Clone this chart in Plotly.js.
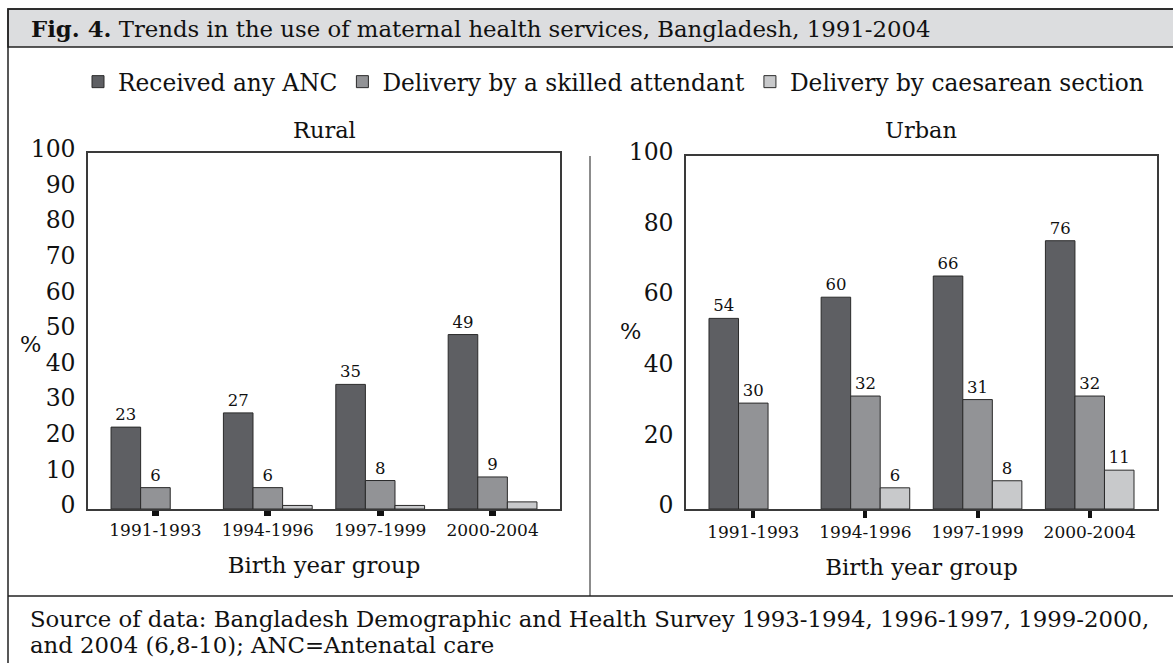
<!DOCTYPE html>
<html>
<head>
<meta charset="utf-8">
<script src="https://cdn.plot.ly/plotly-3.0.1.min.js"></script>
<style>html,body{margin:0;padding:0;background:#fff;}#chart{width:1173px;height:663px;}</style>
</head>
<body>
<div id="chart"></div>
<script>
// ---- data ----
const categories = ['1991-1993', '1994-1996', '1997-1999', '2000-2004'];
const seriesNames = ['Received any ANC', 'Delivery by a skilled attendant', 'Delivery by caesarean section'];
const ruralANC = [23, 27, 35, 49];
const ruralSkilled = [6, 6, 8, 9];
const ruralCaesarean = [null, 1, 1, 2];
const urbanANC = [54, 60, 66, 76];
const urbanSkilled = [30, 32, 31, 32];
const urbanCaesarean = [null, 6, 8, 11];
const panelTitles = ['Rural', 'Urban'];
const headerBold = 'Fig. 4.';
const headerText = 'Trends in the use of maternal health services, Bangladesh, 1991-2004';
const xTitle = 'Birth year group';
const yTitle = '%';
const sourceLine1 = 'Source of data: Bangladesh Demographic and Health Survey 1993-1994, 1996-1997, 1999-2000,';
const sourceLine2 = 'and 2004 (6,8-10); ANC=Antenatal care';

// ---- styling ----
const W = 1173, H = 663;
const FONT = 'DejaVu Serif, serif';
const colors = ['#5e5f63', '#929396', '#c8c9cb'];
const px = v => v / W;
const py = v => 1 - v / H;

function barTrace(name, values, idx, xa, ya, showLeg, showText) {
  return {
    type: 'bar', name: name, x: categories, y: values,
    xaxis: xa, yaxis: ya, legendgroup: name, showlegend: showLeg,
    marker: {color: colors[idx], line: {color: '#2a2a2a', width: 1}},
    text: values.map(v => (v === null ? '' : String(v))),
    textposition: showText ? 'outside' : 'none',
    textfont: {family: FONT, size: 16.5, color: '#111'},
    cliponaxis: false, hoverinfo: 'x+y+name'
  };
}

const traces = [
  barTrace(seriesNames[0], ruralANC, 0, 'x', 'y', true, true),
  barTrace(seriesNames[1], ruralSkilled, 1, 'x', 'y', true, true),
  barTrace(seriesNames[2], ruralCaesarean, 2, 'x', 'y', true, false),
  barTrace(seriesNames[0], urbanANC, 0, 'x2', 'y2', false, true),
  barTrace(seriesNames[1], urbanSkilled, 1, 'x2', 'y2', false, true),
  barTrace(seriesNames[2], urbanCaesarean, 2, 'x2', 'y2', false, true)
];

function xAxis(domain, anchor, tlen, twid) {
  return {
    domain: domain, anchor: anchor, type: 'category', range: [-0.6, 3.6],
    showline: true, mirror: true, linecolor: '#3a3a3a', linewidth: 1.5,
    ticks: 'outside', ticklen: tlen, tickwidth: twid, tickcolor: '#111',
    tickfont: {family: FONT, size: 17, color: '#111'},
    showgrid: false, zeroline: false, fixedrange: true,
    title: {text: xTitle, font: {family: FONT, size: 22.8, color: '#111'}, standoff: 18}
  };
}
function yAxis(domain, anchor, dtick) {
  return {
    domain: domain, anchor: anchor, range: [0, 100], dtick: dtick, tick0: 0,
    showline: true, mirror: true, linecolor: '#3a3a3a', linewidth: 1.5,
    ticks: '', showgrid: false, zeroline: false, fixedrange: true,
    ticklabelstandoff: 6, ticklabelshift: -4,
    tickfont: {family: FONT, size: 23.5, color: '#111'}
  };
}

const layout = {
  width: W, height: H,
  margin: {l: 0, r: 0, t: 0, b: 0},
  paper_bgcolor: '#fff', plot_bgcolor: '#fff',
  font: {family: FONT, color: '#111'},
  barmode: 'group', bargap: 0.21, bargroupgap: 0,
  showlegend: true,
  legend: {
    orientation: 'h', x: px(78), xanchor: 'left', y: py(82), yanchor: 'middle',
    font: {family: FONT, size: 23.3, color: '#111'},
    bgcolor: 'rgba(0,0,0,0)', itemclick: false, itemdoubleclick: false
  },
  xaxis: xAxis([px(88), px(560)], 'y', 5, 7),
  yaxis: yAxis([py(509), py(153)], 'x', 10),
  xaxis2: xAxis([px(686), px(1157)], 'y2', 7, 4),
  yaxis2: yAxis([py(509), py(156)], 'x2', 20),
  shapes: [
    {type: 'rect', xref: 'paper', yref: 'paper', x0: px(8), x1: px(1200), y0: py(9), y1: py(47),
     fillcolor: '#dcdddf', line: {color: '#222', width: 1.5}, layer: 'below'},
    {type: 'rect', xref: 'paper', yref: 'paper', x0: px(8), x1: px(1200), y0: py(9), y1: py(720),
     fillcolor: 'rgba(0,0,0,0)', line: {color: '#222', width: 1.5}, layer: 'below'},
    {type: 'line', xref: 'paper', yref: 'paper', x0: px(590), x1: px(590), y0: py(156), y1: py(596),
     line: {color: '#666', width: 1.5}},
    {type: 'line', xref: 'paper', yref: 'paper', x0: px(8), x1: px(1200), y0: py(596), y1: py(596),
     line: {color: '#222', width: 1.5}}
  ],
  annotations: [
    {xref: 'paper', yref: 'paper', x: px(29), y: py(29), xanchor: 'left', yanchor: 'middle', showarrow: false,
     text: '<b>' + headerBold + '</b> ' + headerText, font: {family: FONT, size: 22.8, color: '#111'}},
    {xref: 'paper', yref: 'paper', x: px(324), y: py(130), xanchor: 'center', yanchor: 'middle', showarrow: false,
     text: panelTitles[0], font: {family: FONT, size: 22.5, color: '#111'}},
    {xref: 'paper', yref: 'paper', x: px(921), y: py(130), xanchor: 'center', yanchor: 'middle', showarrow: false,
     text: panelTitles[1], font: {family: FONT, size: 22.5, color: '#111'}},
    {xref: 'paper', yref: 'paper', x: px(30), y: py(344), xanchor: 'center', yanchor: 'middle', showarrow: false,
     text: yTitle, font: {family: FONT, size: 22.5, color: '#111'}},
    {xref: 'paper', yref: 'paper', x: px(630), y: py(331), xanchor: 'center', yanchor: 'middle', showarrow: false,
     text: yTitle, font: {family: FONT, size: 22.5, color: '#111'}},
    {xref: 'paper', yref: 'paper', x: px(28), y: py(619), xanchor: 'left', yanchor: 'middle', showarrow: false,
     text: sourceLine1, font: {family: FONT, size: 22.8, color: '#111'}},
    {xref: 'paper', yref: 'paper', x: px(28), y: py(645), xanchor: 'left', yanchor: 'middle', showarrow: false,
     text: sourceLine2, font: {family: FONT, size: 22.8, color: '#111'}}
  ]
};

Plotly.newPlot('chart', traces, layout, {displayModeBar: false, responsive: false});
</script>
</body>
</html>
